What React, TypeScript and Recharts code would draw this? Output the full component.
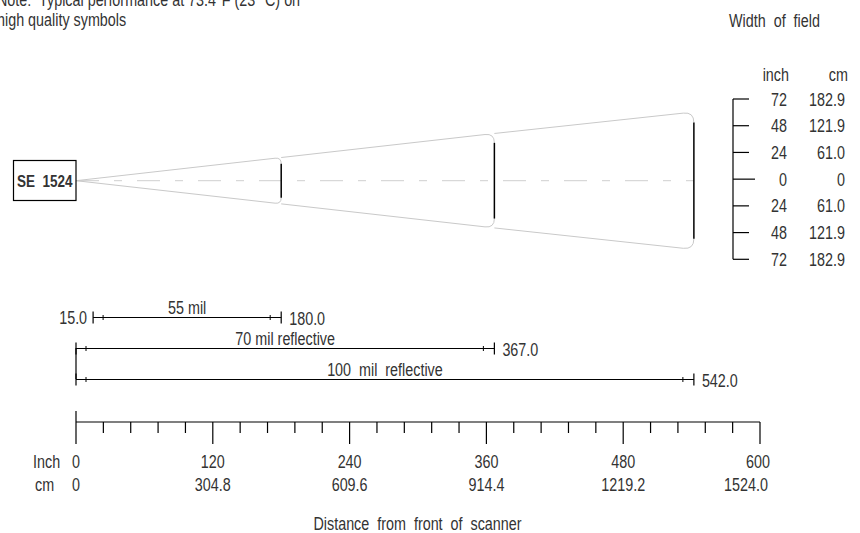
import React from 'react';
import { ComposedChart, XAxis, YAxis, ReferenceLine, Bar, Line } from 'recharts';

const FONT = "'Liberation Sans', Arial, sans-serif";
const TEXT = '#333333';
const FS = 17.5;
const SX = 0.82; // narrow face
const W = 860;
const H = 533;

// ---- Scan cone: distance from scanner (inch) and half width of field (inch)
const coneDistances = [180, 367, 542];
const coneEdgeHalf = [20.8, 42.4, 61.7];
const fieldHalf = [15.3, 34.0, 52.2];

// ---- Width of field scale
const fieldTicks = [72, 48, 24, 0, -24, -48, -72];
const fieldInchLabels = ['72', '48', '24', '0', '24', '48', '72'];
const fieldCmLabels = ['182.9', '121.9', '61.0', '0', '61.0', '121.9', '182.9'];

// ---- Decode ranges
const rangeNames = ['55 mil', '70 mil reflective', '100  mil  reflective'];
const rangeStart = [15.0, 0, 0];
const rangeEnd = [180.0, 367.0, 542.0];

// ---- Distance axis
const distTicks = [0, 24, 48, 72, 96, 120, 144, 168, 192, 216, 240, 264, 288, 312, 336, 360, 384, 408, 432, 456, 480, 504, 528, 552, 576, 600];
const distMajor = [0, 120, 240, 360, 480, 600];
const distInchLabels = ['0', '120', '240', '360', '480', '600'];
const distCmLabels = ['0', '304.8', '609.6', '914.4', '1219.2', '1524.0'];

const rangeData = rangeNames.map((name, i) => ({ name, range: [rangeStart[i], rangeEnd[i]], start: rangeStart[i], end: rangeEnd[i] }));
const coneData = coneDistances.map((d, i) => ({ d, edge: coneEdgeHalf[i], field: fieldHalf[i] }));

function NText(props: any) {
  const { x, y, anchor = 'start', size = FS, weight, children } = props;
  return (
    <text
      transform={`translate(${x},${y}) scale(${SX},1)`}
      x={0}
      y={0}
      textAnchor={anchor}
      fontFamily={FONT}
      fontSize={size}
      fontWeight={weight}
      fill={TEXT}
      style={{ whiteSpace: 'pre' }}
    >
      {children}
    </text>
  );
}

function ConeOutline(props: any) {
  const { x1, y1, x2, y2, e0, e1, f } = props;
  if (x1 == null || y1 == null) return null;
  const py = (v: number) => y1 + ((y2 - y1) * (v - e0)) / (e1 - e0);
  const top = py(e1);
  const bot = py(-e1);
  const topF = py(f);
  const botF = py(-f);
  const sTop = py(e0);
  const sBot = py(-e0);
  const r = Math.abs(topF - top);
  const slT = (top - sTop) / (x2 - x1);
  const slB = (bot - sBot) / (x2 - x1);
  const ax = x2 - r;
  const d = `M${x1},${sTop} L${ax},${top - slT * r} Q${x2},${top} ${x2},${topF} M${x1},${sBot} L${ax},${bot - slB * r} Q${x2},${bot} ${x2},${botF}`;
  return <path d={d} fill="none" stroke="#c9c9c9" strokeWidth={1} />;
}

function FieldTick(props: any) {
  const { x, y, payload } = props;
  const v = payload.value;
  const i = fieldTicks.indexOf(v);
  return (
    <g>
      <line x1={x} x2={x + (v === 0 ? 22 : 16)} y1={y} y2={y} stroke="#000" strokeWidth={1.2} />
      <NText x={x + 54} y={y + 6.5} anchor="end">{fieldInchLabels[i]}</NText>
      <NText x={x + 112} y={y + 6.5} anchor="end">{fieldCmLabels[i]}</NText>
      {i === 0 && (
        <>
          <NText x={x + 56} y={y - 18.3} anchor="end">inch</NText>
          <NText x={x + 115} y={y - 18.3} anchor="end">cm</NText>
        </>
      )}
    </g>
  );
}

function DistTick(props: any) {
  const { x, y, payload } = props;
  const v = payload.value;
  const mi = distMajor.indexOf(v);
  const major = mi >= 0;
  const last = v === distMajor[distMajor.length - 1];
  return (
    <g>
      <line x1={x} x2={x} y1={v === 0 ? y - 11 : y} y2={y + (major ? 22 : 11)} stroke="#000" strokeWidth={1.2} />
      {major && (
        <>
          <NText x={last ? x + 10 : x} y={y + 46} anchor={last ? 'end' : 'middle'}>{distInchLabels[mi]}</NText>
          <NText x={last ? x + 8 : x} y={y + 68.7} anchor={last ? 'end' : 'middle'}>{distCmLabels[mi]}</NText>
        </>
      )}
      {v === 0 && (
        <>
          <NText x={x - 43} y={y + 46}>Inch</NText>
          <NText x={x - 41} y={y + 68.7}>cm</NText>
        </>
      )}
    </g>
  );
}

function RangeShape(props: any) {
  const { x, y, width, height, payload } = props;
  if (x == null) return null;
  const cy = y + height / 2;
  const xs = x;
  const xe = x + width;
  return (
    <g>
      <line x1={xs} x2={xe} y1={cy} y2={cy} stroke="#000" strokeWidth={1.2} />
      <line x1={xs} x2={xs} y1={cy - 6} y2={cy + 6} stroke="#000" strokeWidth={1.2} />
      <line x1={xe} x2={xe} y1={cy - 6} y2={cy + 6} stroke="#000" strokeWidth={1.2} />
      <line x1={xs + 10} x2={xs + 10} y1={cy - 2.5} y2={cy + 2.5} stroke="#000" strokeWidth={1} />
      <line x1={xe - 11} x2={xe - 11} y1={cy - 2.5} y2={cy + 2.5} stroke="#000" strokeWidth={1} />
      <NText x={(xs + xe) / 2} y={cy - 3.5} anchor="middle">{payload.name}</NText>
      {payload.start > 0 && (
        <NText x={xs - 6} y={cy + 6} anchor="end">{payload.start.toFixed(1)}</NText>
      )}
      <NText x={xe + 8} y={cy + 7.5}>{payload.end.toFixed(1)}</NText>
    </g>
  );
}

const layer: React.CSSProperties = { position: 'absolute', left: 0, top: 0 };

export default function App() {
  return (
    <div style={{ position: 'absolute', left: 0, top: 0, width: W, height: H, background: '#fff', overflow: 'hidden' }}>
      {/* Scan cone */}
      <div style={layer}>
        <ComposedChart width={W} height={H} data={coneData} margin={{ top: 100.5, right: 100, bottom: 272.1, left: 76 }}>
          <XAxis type="number" dataKey="d" domain={[0, 600]} allowDataOverflow hide />
          <YAxis type="number" dataKey="edge" domain={[-72, 72]} allowDataOverflow hide />
          <Line dataKey="edge" stroke="none" dot={false} activeDot={false} isAnimationActive={false} legendType="none" />
          <ReferenceLine
            segment={[{ x: 0, y: 0 }, { x: coneDistances[coneDistances.length - 1], y: 0 }]}
            stroke="#cfcfcf"
            strokeDasharray="23 15 8 15"
          />
          {coneDistances.map((d, i) => (
            <ReferenceLine
              key={'cone' + d}
              segment={[
                { x: i ? coneDistances[i - 1] : 0, y: i ? coneEdgeHalf[i - 1] : 0 },
                { x: d, y: coneEdgeHalf[i] },
              ]}
              shape={(p: any) => <ConeOutline {...p} e0={i ? coneEdgeHalf[i - 1] : 0} e1={coneEdgeHalf[i]} f={fieldHalf[i]} />}
            />
          ))}
          {coneDistances.map((d, i) => (
            <ReferenceLine
              key={'field' + d}
              segment={[{ x: d, y: fieldHalf[i] }, { x: d, y: -fieldHalf[i] }]}
              stroke="#000"
              strokeWidth={1.5}
            />
          ))}
        </ComposedChart>
      </div>

      {/* Width of field bracket */}
      <div style={layer}>
        <ComposedChart width={W} height={H} data={coneData} margin={{ top: 99, right: 0, bottom: H - 259.3, left: 0 }}>
          <XAxis type="number" dataKey="d" domain={[0, 600]} allowDataOverflow hide />
          <YAxis
            orientation="right"
            type="number"
            dataKey="edge"
            domain={[-72, 72]}
            allowDataOverflow
            ticks={fieldTicks}
            interval={0}
            width={127}
            axisLine={{ stroke: '#000', strokeWidth: 1.2 }}
            tickLine={false}
            tickSize={0}
            tickMargin={0}
            tick={<FieldTick />}
          />
          <Line dataKey="edge" stroke="none" dot={false} activeDot={false} isAnimationActive={false} legendType="none" />
        </ComposedChart>
      </div>

      {/* Decode ranges */}
      <div style={layer}>
        <ComposedChart layout="vertical" width={W} height={H} data={rangeData} margin={{ top: 301.5, right: 100, bottom: 138.5, left: 76 }}>
          <XAxis type="number" domain={[0, 600]} hide />
          <YAxis type="category" dataKey="name" hide />
          <Bar dataKey="range" barSize={12} shape={<RangeShape />} isAnimationActive={false} />
          <ReferenceLine segment={[{ x: 0, y: rangeNames[1] }, { x: 0, y: rangeNames[2] }]} stroke="#000" strokeWidth={1.2} />
        </ComposedChart>
      </div>

      {/* Distance axis */}
      <div style={layer}>
        <ComposedChart width={W} height={H} data={coneData} margin={{ top: 380, right: 100, bottom: 31, left: 76 }}>
          <XAxis
            type="number"
            dataKey="d"
            domain={[0, 600]}
            ticks={distTicks}
            interval={0}
            height={80}
            axisLine={{ stroke: '#000', strokeWidth: 1.2 }}
            tickLine={false}
            tickSize={0}
            tickMargin={0}
            tick={<DistTick />}
          />
          <YAxis type="number" dataKey="edge" domain={[-72, 72]} hide />
        </ComposedChart>
      </div>

      {/* Annotations */}
      <svg width={W} height={H} style={{ ...layer, pointerEvents: 'none' }}>
        <NText x={-3} y={5.5}>{'Note:  Typical performance at 73.4°F (23° C) on'}</NText>
        <NText x={-3} y={26}>high quality symbols</NText>
        <NText x={729} y={27}>{'Width  of  field'}</NText>
        <NText x={417.5} y={530} anchor="middle">{'Distance  from  front  of  scanner'}</NText>
        <rect x={13.5} y={160.5} width={62.5} height={40} fill="#fff" stroke="#000" strokeWidth={1.2} />
        <NText x={44.8} y={186.7} anchor="middle" weight="bold" size={16.5}>{'SE  1524'}</NText>
      </svg>
    </div>
  );
}
